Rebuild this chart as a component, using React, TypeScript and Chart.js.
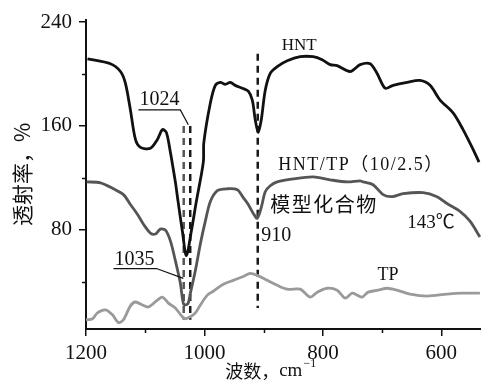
import React, { useEffect, useRef } from "react";
import { Chart, registerables } from "chart.js";

Chart.register(...registerables);

// ---- data ----
const hntWave = [1197.5, 1158.7, 1141.8, 1133.4, 1125.0, 1116.5, 1108.1, 1091.2, 1079.4, 1071.0, 1064.2, 1057.5, 1054.6, 1049.1, 1044.5, 1037.3, 1030.5, 1022.1, 1013.7, 1001.9, 1001.0, 990.0, 981.6, 973.2, 964.8, 956.3, 947.9, 936.1, 926.0, 919.2, 914.2, 909.1, 904.0, 897.3, 888.9, 877.1, 860.2, 838.3, 816.4, 801.2, 787.7, 775.9, 754.0, 737.1, 720.2, 708.4, 694.9, 681.4, 657.8, 635.8, 619.0, 602.1, 580.1, 563.3, 546.4, 536.3];
const hntT = [211.8, 208.0, 202.0, 192.9, 172.4, 149.6, 143.5, 142.8, 149.6, 157.2, 154.9, 139.7, 132.1, 116.9, 101.7, 79.0, 60.0, 79.0, 101.7, 132.1, 147.3, 177.7, 191.3, 193.6, 192.1, 193.6, 191.3, 189.1, 186.8, 180.0, 164.8, 154.9, 164.8, 187.5, 200.5, 205.8, 210.3, 213.4, 213.4, 211.1, 207.3, 206.5, 202.0, 207.3, 208.0, 200.5, 189.1, 191.3, 193.6, 195.1, 191.3, 180.0, 170.1, 157.2, 142.0, 132.1];

const modelWave = [1199.2, 1175.5, 1153.6, 1136.8, 1125.0, 1113.2, 1103.0, 1091.2, 1082.8, 1074.4, 1065.9, 1057.5, 1049.1, 1040.6, 1035.0, 1028.0, 1023.8, 1015.3, 1006.9, 998.5, 990.0, 978.2, 961.4, 944.5, 934.4, 926.0, 917.5, 910.8, 904.0, 897.3, 888.9, 877.1, 850.1, 816.4, 787.7, 759.0, 737.1, 732.1, 715.2, 698.3, 683.1, 664.6, 630.9, 607.3, 590.4, 568.5, 551.6, 534.8];
const modelT = [116.9, 116.2, 111.6, 107.1, 99.5, 91.9, 84.3, 77.4, 76.7, 80.5, 79.7, 71.4, 56.2, 38.7, 22.5, 23.0, 31.1, 48.6, 69.1, 86.6, 101.7, 110.1, 111.6, 110.9, 104.8, 99.5, 92.6, 88.8, 97.2, 109.3, 113.9, 116.9, 119.2, 120.7, 118.5, 116.9, 117.7, 116.9, 114.7, 107.1, 105.5, 107.8, 108.6, 105.5, 100.2, 94.2, 86.6, 74.4];

const tpWave = [1200, 1189, 1180.6, 1167.1, 1155.3, 1145.2, 1136.8, 1125.0, 1116.5, 1104.7, 1094.6, 1079.4, 1071.0, 1060.9, 1049.1, 1037.3, 1032.2, 1023.8, 1015.3, 1006.9, 995.1, 985.0, 968.1, 951.3, 934.4, 922.6, 910.8, 893.9, 877.1, 860.2, 838.3, 821.4, 809.6, 792.7, 775.9, 762.4, 750.6, 742.2, 733.7, 723.6, 706.7, 691.6, 674.7, 652.8, 624.1, 590.4, 563.5, 534.8];
const tpT = [10.6, 11.4, 15.9, 18.2, 14.4, 8.4, 10.6, 21.3, 24.3, 22.0, 20.5, 25.8, 28.1, 23.5, 19.7, 12.9, 11.4, 12.9, 15.9, 22.0, 29.6, 32.6, 38.0, 41.0, 44.0, 46.3, 44.8, 41.0, 37.2, 34.2, 34.2, 28.1, 31.9, 34.9, 33.4, 27.3, 31.1, 29.6, 28.1, 31.9, 33.4, 34.9, 33.4, 30.4, 28.9, 30.4, 31.1, 31.1];

// marker (dashed) lines: wavenumber, top and bottom transmittance
const markerWave = [1035, 1024, 910];
const markerTop = [160, 160, 215.6];
const markerBottom = [10.6, 10.6, 19.7];
const markerColor = ["#555555", "#1a1a1a", "#1a1a1a"];

const xTicks = [1200, 1100, 1000, 900, 800, 700, 600];
const xLabelTicks = [1200, 1000, 800, 600];
const yTicks = [40, 80, 120, 160, 200, 240];
const yLabelTicks = [80, 160, 240];

// text annotations in data units
const annoText = ["HNT", "HNT/TP（10/2.5）", "模型化合物", "143℃", "910", "TP", "1024", "1035"];
const annoX = [840, 875.4, 888.9, 617.4, 904, 690, 1076, 1118];
const annoY = [221.7, 129.8, 99.5, 85, 75.2, 44.8, 180, 57];
const annoAlign = ["center", "left", "left", "center", "left", "center", "center", "center"];
const annoSize = [17, 18, 20, 19, 20, 18, 20, 20];
const annoSpacing = [0, 1.5, 1.5, 0, 0, 0, 0, 0];

// leader lines for 1024 and 1035 labels (polyline in data units)
const leader1024X = [1111.5, 1040.7, 1027.2];
const leader1024Y = [172.4, 172.4, 161];
const leader1035X = [1153.6, 1081, 1035.6];
const leader1035Y = [50.1, 50.1, 42.5];

const SERIF = '"Liberation Serif", "Times New Roman", "Noto Sans CJK SC", serif';
const CJK = '"Noto Sans CJK SC", "Liberation Serif", sans-serif';

function pts(xs: number[], ys: number[]) {
  return xs.map((x, i) => ({ x, y: ys[i] }));
}

const annotationPlugin = {
  id: "annos",
  afterDatasetsDraw(chart: any) {
    const { ctx, scales, chartArea } = chart;
    const xs = scales.x;
    const ys = scales.y;
    ctx.save();
    ctx.fillStyle = "#111";
    ctx.textBaseline = "middle";
    annoText.forEach((t, i) => {
      const isCjk = /^[\u4e00-\u9fff]/.test(t);
      ctx.font = `${annoSize[i]}px ${isCjk ? CJK : SERIF}`;
      (ctx as any).letterSpacing = `${annoSpacing[i]}px`;
      ctx.textAlign = annoAlign[i] as CanvasTextAlign;
      ctx.fillText(t, xs.getPixelForValue(annoX[i]), ys.getPixelForValue(annoY[i]));
    });
    (ctx as any).letterSpacing = "0px";
    ctx.strokeStyle = "#111";
    ctx.lineWidth = 1.2;
    [[leader1024X, leader1024Y], [leader1035X, leader1035Y]].forEach(([lx, ly]) => {
      ctx.beginPath();
      lx.forEach((v, i) => {
        const px = xs.getPixelForValue(v);
        const py = ys.getPixelForValue(ly[i]);
        if (i === 0) ctx.moveTo(px, py);
        else ctx.lineTo(px, py);
      });
      ctx.stroke();
    });
    // minor ticks
    ctx.strokeStyle = "#111";
    ctx.lineWidth = 1.5;
    xTicks.filter((v) => !xLabelTicks.includes(v)).forEach((v) => {
      const px = Math.round(xs.getPixelForValue(v)) + 0.5;
      ctx.beginPath();
      ctx.moveTo(px, chartArea.bottom);
      ctx.lineTo(px, chartArea.bottom + 4);
      ctx.stroke();
    });
    yTicks.filter((v) => !yLabelTicks.includes(v)).forEach((v) => {
      const py = Math.round(ys.getPixelForValue(v)) + 0.5;
      ctx.beginPath();
      ctx.moveTo(chartArea.left, py);
      ctx.lineTo(chartArea.left - 4, py);
      ctx.stroke();
    });
    // x axis title
    const ty = chartArea.bottom + 42;
    let tx = xs.getPixelForValue(965);
    ctx.textAlign = "left";
    ctx.font = `18px ${CJK}`;
    ctx.fillText("波数，", tx, ty);
    tx += ctx.measureText("波数，").width;
    ctx.font = `19px ${SERIF}`;
    ctx.fillText("cm", tx, ty);
    tx += ctx.measureText("cm").width + 1;
    ctx.font = `12px ${SERIF}`;
    ctx.fillText("−1", tx, ty - 7);
    ctx.restore();
  },
};

export default function App() {
  const ref = useRef<HTMLCanvasElement | null>(null);
  useEffect(() => {
    if (!ref.current) return;
    const markerSets = markerWave.map((w, i) => ({
      label: "m" + i,
      data: [{ x: w, y: markerTop[i] }, { x: w, y: markerBottom[i] }],
      borderColor: markerColor[i],
      borderWidth: 2.5,
      borderDash: [7, 5],
      pointRadius: 0,
      fill: false,
    }));
    const chart = new Chart(ref.current, {
      type: "line",
      data: {
        datasets: [
          { label: "TP", data: pts(tpWave, tpT), borderColor: "#9a9a9a", borderWidth: 2.8, pointRadius: 0, tension: 0.3, fill: false },
          { label: "HNT/TP", data: pts(modelWave, modelT), borderColor: "#555555", borderWidth: 2.8, pointRadius: 0, tension: 0.3, fill: false },
          { label: "HNT", data: pts(hntWave, hntT), borderColor: "#111111", borderWidth: 2.8, pointRadius: 0, tension: 0.3, fill: false },
          ...markerSets,
        ],
      },
      options: {
        animation: false,
        responsive: false,
        layout: { padding: { top: 15, right: 0, left: 0, bottom: 0 } },
        plugins: { legend: { display: false }, tooltip: { enabled: false } },
        scales: {
          x: {
            type: "linear",
            reverse: true,
            min: 533,
            max: 1200,
            afterBuildTicks: (s: any) => { s.ticks = xTicks.map((v) => ({ value: v })); },
            afterFit: (s: any) => { s.height = 56; },
            grid: {
              display: true,
              drawOnChartArea: false,
              drawTicks: true,
              tickLength: 7,
              lineWidth: 1.5,
              tickColor: (c: any) => (c.tick && xLabelTicks.includes(c.tick.value) ? "#111" : "rgba(0,0,0,0)"),
            },
            border: { display: true, color: "#111", width: 2 },
            ticks: {
              autoSkip: false,
              maxRotation: 0,
              padding: 5,
              color: "#111",
              font: { family: SERIF, size: 21 },
              callback: (v: any) => (xLabelTicks.includes(Number(v)) ? String(v) : ""),
            },
          },
          y: {
            type: "linear",
            min: 3.5,
            max: 242,
            afterBuildTicks: (s: any) => { s.ticks = yTicks.map((v) => ({ value: v })); },
            afterFit: (s: any) => { s.width = 86; },
            grid: {
              display: true,
              drawOnChartArea: false,
              drawTicks: true,
              tickLength: 7,
              lineWidth: 1.5,
              tickColor: (c: any) => (c.tick && yLabelTicks.includes(c.tick.value) ? "#111" : "rgba(0,0,0,0)"),
            },
            border: { display: true, color: "#111", width: 2 },
            title: {
              display: true,
              text: "透射率，%",
              color: "#111",
              font: { family: CJK, size: 21 },
              padding: { top: 9, bottom: 0 },
            },
            ticks: {
              autoSkip: false,
              padding: 7,
              color: "#111",
              font: { family: SERIF, size: 21 },
              callback: (v: any) => (yLabelTicks.includes(Number(v)) ? String(v) : ""),
            },
          },
        },
      },
      plugins: [annotationPlugin],
    } as any);
    return () => chart.destroy();
  }, []);
  return (
    <div style={{ position: "fixed", left: 0, top: 0, width: 481, height: 385, background: "#fff" }}>
      <canvas ref={ref} width={481} height={385} style={{ display: "block" }} />
    </div>
  );
}
